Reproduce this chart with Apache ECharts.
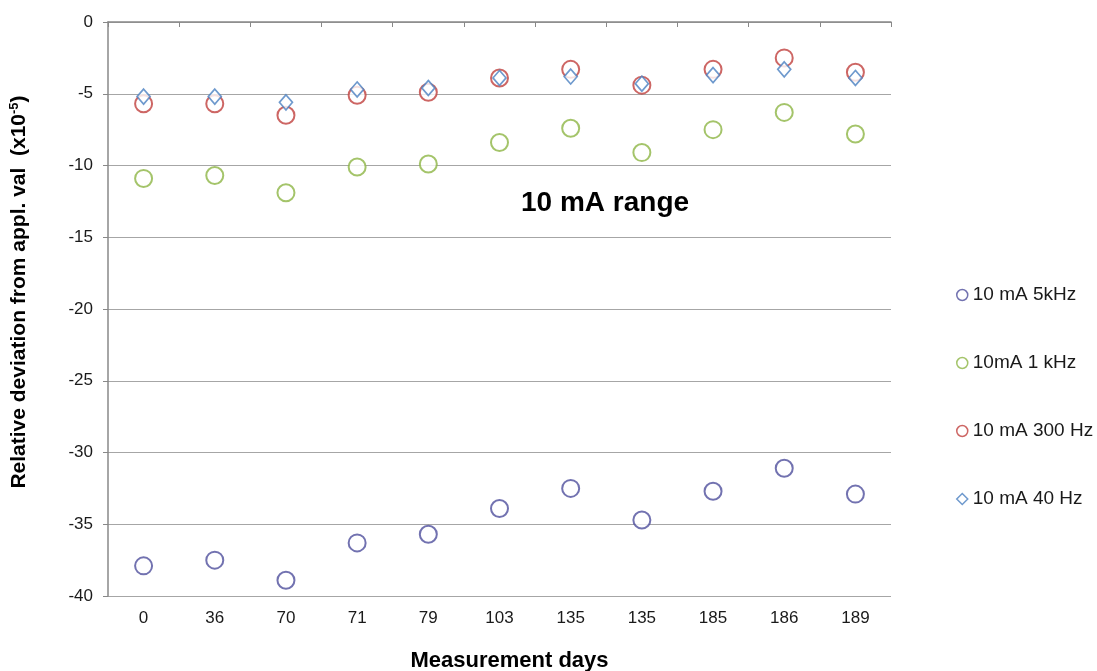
<!DOCTYPE html>
<html>
<head>
<meta charset="utf-8">
<script src="https://cdn.jsdelivr.net/npm/echarts@6/dist/echarts.min.js"></script>
<style>html,body{margin:0;padding:0;background:#fff}#c{width:1097px;height:671px}</style>
</head>
<body>
<div id="c"></div>
<script>
const days = ['0','36','70','71','79','103','135','135','185','186','189'];
const yTicks = [0,-5,-10,-15,-20,-25,-30,-35,-40];
const s5kHz  = [-37.9,-37.5,-38.9,-36.3,-35.7,-33.9,-32.5,-34.7,-32.7,-31.1,-32.9];
const s1kHz  = [-10.9,-10.7,-11.9,-10.1,-9.9,-8.4,-7.4,-9.1,-7.5,-6.3,-7.8];
const s300Hz = [-5.7,-5.7,-6.5,-5.1,-4.9,-3.9,-3.3,-4.4,-3.3,-2.5,-3.5];
const s40Hz  = [-5.2,-5.2,-5.6,-4.7,-4.6,-3.9,-3.8,-4.3,-3.7,-3.3,-3.9];
const names = ['10 mA 5kHz','10mA 1 kHz','10 mA 300 Hz','10 mA 40 Hz'];
const colors = ['#4F4F9C','#8DB545','#C0403D','#4A7FC1'];

const font = '"Liberation Sans", Arimo, sans-serif';
const chart = echarts.init(document.getElementById('c'), null, {renderer:'canvas'});
const series = [s5kHz, s1kHz, s300Hz, s40Hz].map((d, i) => ({
  name: names[i],
  type: 'scatter',
  data: d,
  symbol: i === 3 ? 'diamond' : 'emptyCircle',
  symbolSize: i === 3 ? [13, 15] : 17,
  itemStyle: i === 3
    ? {color: '#fff', borderColor: colors[i], borderWidth: 1.7}
    : {color: colors[i], borderColor: colors[i], borderWidth: 1.7},
  z: 3 + i
}));

chart.setOption({
  animation: false,
  backgroundColor: '#fff',
  grid: {left: 108, right: 206, top: 22, bottom: 75, outerBoundsMode: 'none', containLabel: false},
  title: {
    text: '10 mA range', left: 516, top: 184,
    textStyle: {fontFamily: font, fontSize: 28, fontWeight: 'bold', color: '#000'}
  },
  legend: {
    orient: 'vertical', left: 951, top: 279, itemGap: 46,
    itemWidth: 11, itemHeight: 11,
    textStyle: {fontFamily: font, fontSize: 19, color: '#1a1a1a', lineHeight: 22},
    data: names.map((n, i) => ({
      name: n,
      icon: i === 3 ? 'diamond' : 'circle',
      itemStyle: {color: '#fff', borderColor: colors[i], borderWidth: 1.5}
    }))
  },
  xAxis: [
    {
      type: 'category', data: days, position: 'bottom', boundaryGap: true,
      axisLine: {show: false}, axisTick: {show: false},
      axisLabel: {fontFamily: font, fontSize: 17, color: '#1a1a1a', margin: 14, interval: 0},
      name: 'Measurement days', nameLocation: 'middle', nameGap: 54,
      nameTextStyle: {fontFamily: font, fontSize: 22, fontWeight: 'bold', color: '#000', padding: [0,0,0,20]}
    },
    {
      type: 'category', data: days, position: 'top', boundaryGap: true,
      axisLine: {show: true, onZero: false, lineStyle: {color: '#888', width: 1.5}},
      axisTick: {show: true, inside: true, length: 5, interval: 0, lineStyle: {color: '#888'}},
      axisLabel: {show: false}
    }
  ],
  yAxis: {
    type: 'value', min: -40, max: 0, interval: 5,
    axisLine: {show: true, lineStyle: {color: '#888', width: 1.5}},
    axisTick: {show: true, length: 5, lineStyle: {color: '#888'}},
    axisLabel: {fontFamily: font, fontSize: 17, color: '#1a1a1a', margin: 15},
    splitLine: {show: true, lineStyle: {color: '#a6a6a6', width: 1.2}},
    name: '{a|Relative deviation from appl. val  (x10}{s|-5}{a|)}',
    nameLocation: 'middle', nameGap: 77, nameRotate: 90,
    nameTextStyle: {
      padding: [0, 0, 0, 34],
      rich: {
        a: {fontFamily: font, fontSize: 21, fontWeight: 'bold', color: '#000'},
        s: {fontFamily: font, fontSize: 13, fontWeight: 'bold', color: '#000', verticalAlign: 'top', padding: [0,0,10,0]}
      }
    }
  },
  series: series
});
</script>
</body>
</html>
